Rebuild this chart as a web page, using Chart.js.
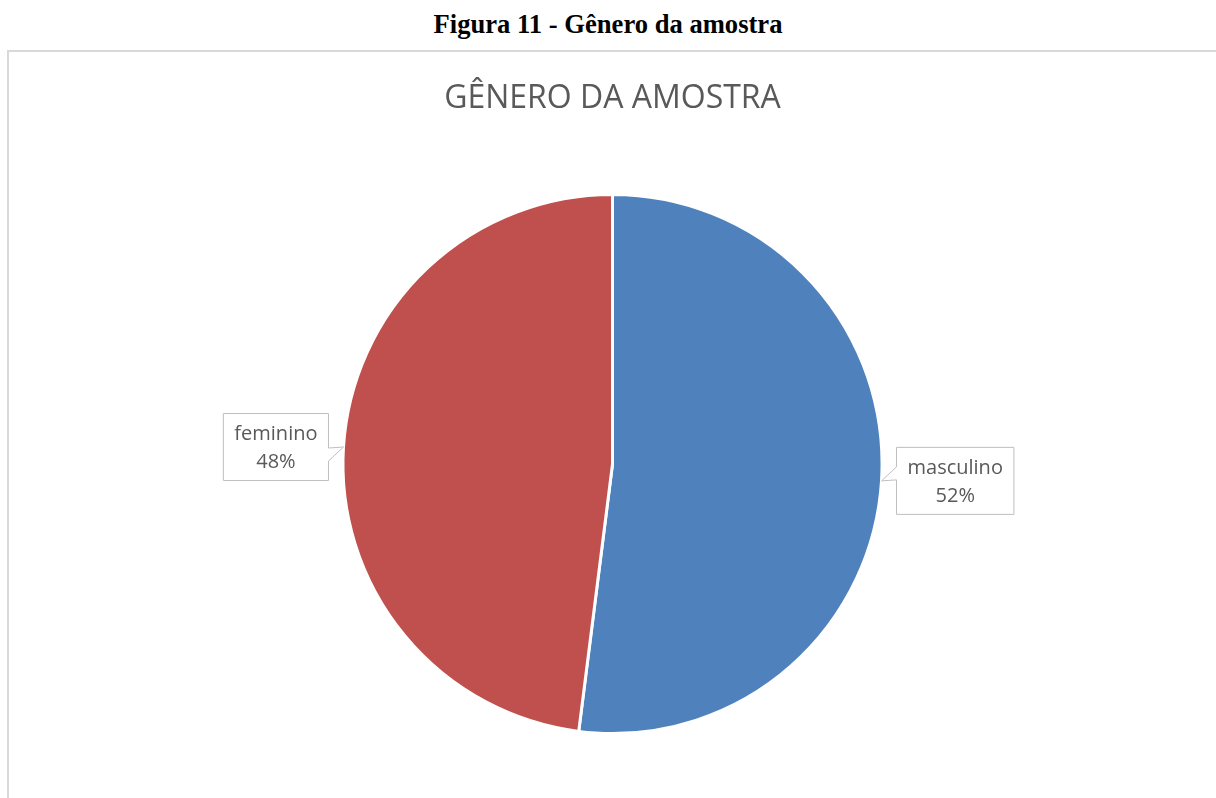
<!DOCTYPE html>
<html>
<head>
<meta charset="utf-8">
<script src="https://cdn.jsdelivr.net/npm/chart.js@4.4.1/dist/chart.umd.min.js"></script>
<style>
  body { margin: 0; background: #fff; width: 1216px; height: 798px; overflow: hidden; position: relative; }
  #caption { position: absolute; top: 8px; left: 0; width: 1216px; text-align: center;
    font: bold 26.6px "Liberation Serif", "Times New Roman", serif; color: #000; line-height: 32px; }
  #box { position: absolute; left: 7px; top: 50px; width: 1220px; height: 760px;
    border-left: 2px solid #d9d9d9; border-top: 2px solid #d9d9d9; }
  #chart-wrap { position: absolute; left: 9px; top: 52px; width: 1207px; height: 746px; }
</style>
</head>
<body>
<div id="caption">Figura 11 - Gênero da amostra</div>
<div id="box"></div>
<div id="chart-wrap"><canvas id="pie"></canvas></div>
<script>
const labels = ['masculino', 'feminino'];
const values = [52, 48];
const colors = ['#4f81bd', '#c0504d'];

const textColor = '#595959';
const labelFont = '20px "Open Sans", sans-serif';

// callout boxes like the Excel data labels
const calloutLabels = {
  id: 'calloutLabels',
  afterDatasetsDraw(chart) {
    const ctx = chart.ctx;
    const meta = chart.getDatasetMeta(0);
    const total = values.reduce((a, b) => a + b, 0);
    meta.data.forEach((arc, i) => {
      const p = arc.getProps(['x', 'y', 'startAngle', 'endAngle', 'outerRadius'], true);
      const mid = (p.startAngle + p.endAngle) / 2;
      const tipX = p.x + Math.cos(mid) * p.outerRadius;
      const tipY = p.y + Math.sin(mid) * p.outerRadius;
      const pct = Math.round(values[i] / total * 100) + '%';

      ctx.save();
      ctx.font = labelFont;
      const w = Math.max(ctx.measureText(labels[i]).width, ctx.measureText(pct).width) + 22;
      const h = 67;
      const right = Math.cos(mid) > 0;
      const gap = 15;
      const bx = right ? tipX + gap : tipX - gap - w;
      const by = tipY - h / 2;
      const s = right ? -1 : 1;
      const b1 = tipY + s * 1, b2 = tipY + s * 14;

      ctx.beginPath();
      if (right) {
        ctx.moveTo(bx, by);
        ctx.lineTo(bx + w, by);
        ctx.lineTo(bx + w, by + h);
        ctx.lineTo(bx, by + h);
        ctx.lineTo(bx, b1);
        ctx.lineTo(tipX, tipY);
        ctx.lineTo(bx, b2);
        ctx.closePath();
      } else {
        ctx.moveTo(bx, by);
        ctx.lineTo(bx + w, by);
        ctx.lineTo(bx + w, b1);
        ctx.lineTo(tipX, tipY);
        ctx.lineTo(bx + w, b2);
        ctx.lineTo(bx + w, by + h);
        ctx.lineTo(bx, by + h);
        ctx.closePath();
      }
      ctx.fillStyle = '#ffffff';
      ctx.fill();
      ctx.strokeStyle = '#bfbfbf';
      ctx.lineWidth = 1;
      ctx.stroke();

      ctx.fillStyle = textColor;
      ctx.textAlign = 'center';
      ctx.textBaseline = 'middle';
      ctx.fillText(labels[i], bx + w / 2, tipY - 13);
      ctx.fillText(pct, bx + w / 2, tipY + 15);
      ctx.restore();
    });
  }
};

new Chart(document.getElementById('pie'), {
  type: 'pie',
  data: {
    labels: labels,
    datasets: [{
      data: values,
      backgroundColor: colors,
      borderColor: '#ffffff',
      borderWidth: 3
    }]
  },
  options: {
    responsive: true,
    maintainAspectRatio: false,
    animation: false,
    layout: { padding: { top: 0, bottom: 63 } },
    plugins: {
      legend: { display: false },
      tooltip: { enabled: false },
      title: {
        display: true,
        text: 'GÊNERO DA AMOSTRA',
        color: textColor,
        font: { family: '"Open Sans", sans-serif', size: 32, weight: 'normal' },
        padding: { top: 27.5, bottom: 75 }
      }
    }
  },
  plugins: [calloutLabels]
});
</script>
</body>
</html>
